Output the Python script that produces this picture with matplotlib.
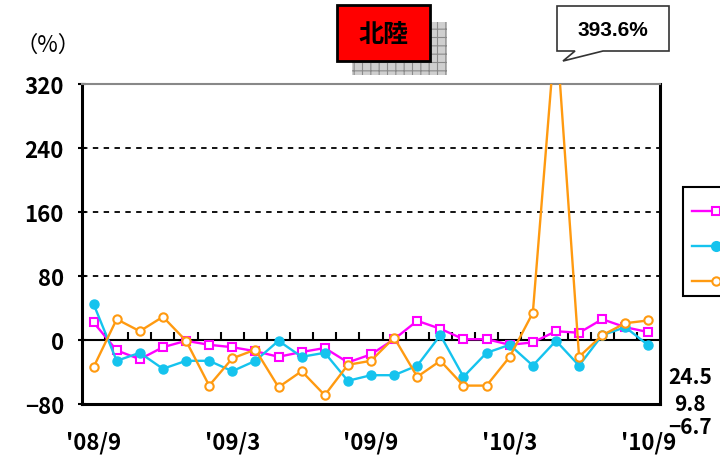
import matplotlib
matplotlib.use('Agg')
import matplotlib.pyplot as plt
import numpy as np
from matplotlib.patches import Rectangle, Polygon
from matplotlib.lines import Line2D

plt.rcParams['font.family'] = ['Noto Sans CJK JP', 'DejaVu Sans']
plt.rcParams['hatch.linewidth'] = 0.8

# 月次データ（前年同月比、%）
months = ["'08/9", "'08/10", "'08/11", "'08/12", "'09/1", "'09/2", "'09/3",
          "'09/4", "'09/5", "'09/6", "'09/7", "'09/8", "'09/9", "'09/10",
          "'09/11", "'09/12", "'10/1", "'10/2", "'10/3", "'10/4", "'10/5",
          "'10/6", "'10/7", "'10/8", "'10/9"]
series_a = [22, -13, -24, -9, -1, -6, -9, -14, -21, -15, -10, -28, -18, 1,
            24, 14, 1, 1, -6, -3, 11, 9, 26, 16, 9.8]
series_b = [45, -26, -16, -36, -26, -26, -39, -26, -1, -21, -16, -51, -44, -44,
            -32, 6, -46, -16, -6, -32, -1, -32, 6, 16, -6.7]
series_c = [-34, 26, 11, 29, -1, -57, -23, -12, -59, -39, -69, -31, -26, 3,
            -46, -26, -57, -57, -21, 34, 393.6, -21, 6, 21, 24.5]
yticks = [-80, 0, 80, 160, 240, 320]
label_ticks = [0, 6, 12, 18, 24]

W, H = 720, 460


def fx(x):
    return x / W


def fy(y):
    return 1 - y / H


fig = plt.figure(figsize=(7.2, 4.6), dpi=100)
ax = fig.add_axes([fx(82), fy(405), fx(660) - fx(82), fy(85) - fy(405)])

x = np.arange(len(months))
ax.plot(x, series_a, color='#ff00ff', lw=1.7, marker='s', ms=5.5,
        mfc='white', mec='#ff00ff', mew=1.5, zorder=4)
ax.plot(x, series_b, color='#15c3ee', lw=1.7, marker='o', ms=6.5,
        mfc='#15c3ee', mec='#15c3ee', zorder=5)
ax.plot(x, series_c, color='#ff9a10', lw=1.7, marker='o', ms=6,
        mfc='white', mec='#ff9a10', mew=1.5, zorder=6)

ax.set_xlim(-0.5, len(months) - 0.5)
ax.set_ylim(-80, 320)

# 破線の目盛線
for v in [80, 160, 240, 320, -80]:
    ax.axhline(v, color='black', lw=1.3, ls=(0, (3, 3)), zorder=1)
ax.axhline(0, color='black', lw=1.5, zorder=2)
ax.vlines(x[:-1] + 0.5, 0, 10, color='black', lw=1.5, zorder=2)

ax.set_yticks(yticks)
ax.set_yticklabels([str(v).replace('-', '−') for v in yticks],
                   fontsize=16, fontweight='bold')
ax.set_xticks(label_ticks)
ax.set_xticklabels([months[i] for i in label_ticks], fontsize=16,
                   fontweight='bold')
ax.tick_params(axis='x', length=0, pad=19)
ax.tick_params(axis='y', direction='inout', length=6, width=1.5, pad=10)

for s in ['left', 'right', 'bottom']:
    ax.spines[s].set_linewidth(2.2)
    ax.spines[s].set_color('black')
ax.spines['top'].set_color('#888888')
ax.spines['top'].set_linewidth(1.5)

# 単位
fig.text(fx(48), fy(45), '（%）', fontsize=16, ha='center', va='center')

# 右側の最新値
fig.text(fx(690), fy(378), f'{series_c[-1]}', fontsize=15, fontweight='bold',
         ha='center', va='center')
fig.text(fx(690), fy(405), f'{series_a[-1]}', fontsize=15, fontweight='bold',
         ha='center', va='center')
fig.text(fx(690), fy(428), f'{series_b[-1]}'.replace('-', '−'), fontsize=15,
         fontweight='bold', ha='center', va='center')

# タイトル（影付きの赤い箱）
shadow = Rectangle((fx(352), fy(76)), fx(447) - fx(352), fy(23) - fy(76),
                   transform=fig.transFigure, facecolor='#cfcfcf',
                   edgecolor='#8a8a8a', hatch='++', lw=0)
fig.add_artist(shadow)
title_box = Rectangle((fx(337), fy(62)), fx(430) - fx(337), fy(6) - fy(62),
                      transform=fig.transFigure, facecolor='#ff0000',
                      edgecolor='black', lw=2)
fig.add_artist(title_box)
fig.text(fx(383), fy(35), '北陸', fontsize=18, fontweight='bold',
         ha='center', va='center')

# 吹き出し
call_pts = [(557, 7), (669, 7), (669, 52), (603, 52), (563, 62), (575, 52),
            (557, 52)]
callout = Polygon([(fx(px), fy(py)) for px, py in call_pts], closed=True,
                  transform=fig.transFigure, facecolor='white',
                  edgecolor='#333333', lw=1.2)
fig.add_artist(callout)
fig.text(fx(613), fy(31), f'{series_c[20]}%', family='Liberation Sans',
         fontsize=15, fontweight='bold', ha='center', va='center')

# 凡例
legend_box = Rectangle((fx(683), fy(297)), fx(760) - fx(683), fy(188) - fy(297),
                       transform=fig.transFigure, facecolor='white',
                       edgecolor='black', lw=1.5)
fig.add_artist(legend_box)
legend_rows = [(212, '#ff00ff', 's', 'white', 5.5),
               (247, '#15c3ee', 'o', '#15c3ee', 6.5),
               (282, '#ff9a10', 'o', 'white', 6)]
for ly, col, mk, face, size in legend_rows:
    fig.add_artist(Line2D([fx(692), fx(716), fx(740)], [fy(ly)] * 3,
                          transform=fig.transFigure, color=col, lw=1.7,
                          marker=mk, ms=size, mfc=face, mec=col, mew=1.5,
                          markevery=[1]))

fig.savefig('out.png', dpi=100)
